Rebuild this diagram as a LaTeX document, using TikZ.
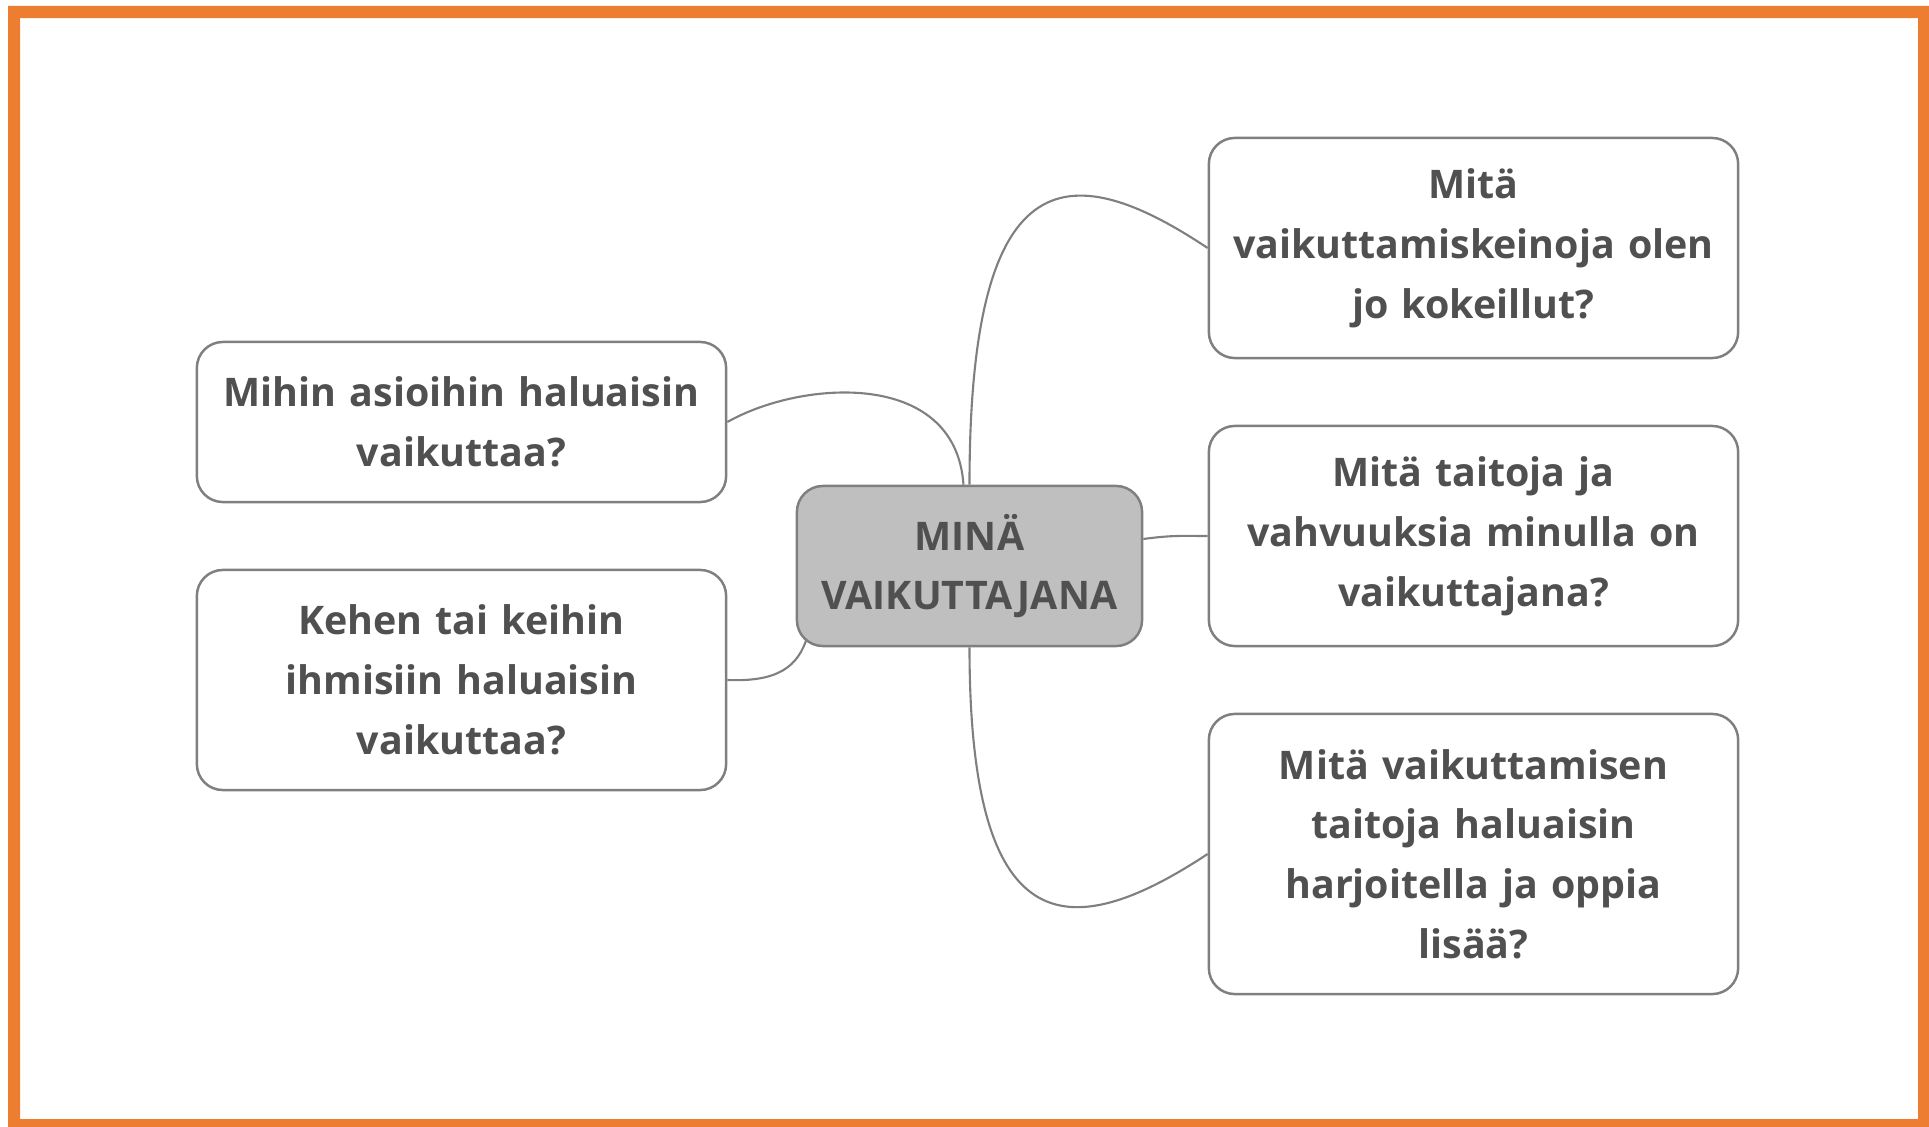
\documentclass[tikz,border=0pt]{standalone}
\usepackage{fontspec}
\setmainfont{Open Sans}
\usetikzlibrary{backgrounds}
\definecolor{reunus}{HTML}{ED7D31}
\definecolor{teksti}{HTML}{505050}
\definecolor{viiva}{HTML}{7F7F7F}
\hyphenpenalty=10000
\begin{document}
\begin{tikzpicture}[x=0.01cm, y=-0.01cm, line join=round, line cap=round,
    kysymys/.style={draw=viiva, line width=0.7pt, fill=white, rounded corners=0.26cm,
        minimum width=5.29cm, text width=5.2cm, align=center, inner sep=0pt,
        font=\bfseries\fontsize{11.2}{17}\selectfont, text=teksti},
    keskus/.style={kysymys, fill=gray!50, minimum width=3.45cm, text width=3.3cm, minimum height=1.6cm},
    yhteys/.style={draw=viiva, line width=0.6pt}]
        \useasboundingbox (0,0) rectangle (1929,1127);
        \fill[reunus, even odd rule] (8,6) rectangle (1929,1127) (20,18) rectangle (1918,1119);
        % keskus ja kysymykset
        \node[keskus] (mina) at (969.5,566) {MINÄ\\VAIKUTTAJANA};
        \node[kysymys, minimum height=1.6cm] (mihin) at (461.5,422) {Mihin asioihin haluaisin\\vaikuttaa?};
        \node[kysymys, minimum height=2.2cm] (kehen) at (461.5,680) {Kehen tai keihin\\ihmisiin haluaisin\\vaikuttaa?};
        \node[kysymys, minimum height=2.2cm] (keinot) at (1473.5,248) {Mitä\\vaikuttamiskeinoja olen\\jo kokeillut?};
        \node[kysymys, minimum height=2.2cm] (taidot) at (1473.5,536) {Mitä taitoja ja\\vahvuuksia minulla on\\vaikuttajana?};
        \node[kysymys, minimum height=2.8cm] (oppia) at (1473.5,854) {Mitä vaikuttamisen\\taitoja haluaisin\\harjoitella ja oppia\\lisää?};
        \begin{scope}[on background layer]
        \draw[yhteys] (mihin.east) .. controls +(74,-42) and +(-8,-116) .. ([xshift=-0.06cm]mina.north);
        \draw[yhteys] (kehen.east) .. controls +(50,2) and +(-9,32) .. ([shift={(0.12cm,0.12cm)}]mina.south west);
        \draw[yhteys] (mina.north) .. controls +(0,-320) and +(-144,-96) .. (keinot.west);
        \draw[yhteys] ([yshift=0.27cm]mina.east) .. controls +(30,-4) and +(-25,0) .. (taidot.west);
        \draw[yhteys] (mina.south) .. controls +(0,290) and +(-144,95) .. (oppia.west);
        \end{scope}
\end{tikzpicture}
\end{document}
